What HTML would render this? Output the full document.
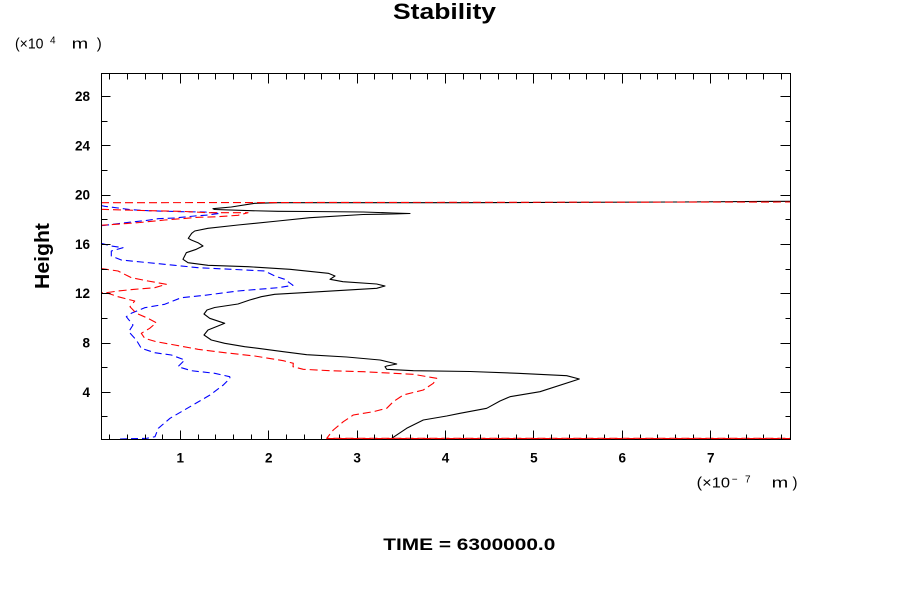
<!DOCTYPE html>
<html><head><meta charset="utf-8"><style>
html,body{margin:0;padding:0;background:#fff;}
svg{display:block;}
text{font-family:"Liberation Sans",Arial,sans-serif;}
</style></head><body>
<svg width="900" height="600" viewBox="0 0 900 600" xmlns="http://www.w3.org/2000/svg">
<rect width="900" height="600" fill="#fff"/>
<!-- title -->
<text x="393" y="19" font-size="22" font-weight="bold" textLength="103" lengthAdjust="spacingAndGlyphs">Stability</text>
<!-- y units -->
<text x="15" y="48.3" font-size="15" textLength="28.5" lengthAdjust="spacingAndGlyphs">(×10</text>
<text x="50" y="43.5" font-size="10">4</text>
<text x="71.7" y="48.3" font-size="15" textLength="16.6" lengthAdjust="spacingAndGlyphs">m</text>
<text x="96.7" y="48.3" font-size="15">)</text>
<!-- x units -->
<text x="696.7" y="487.3" font-size="15" textLength="33.3" lengthAdjust="spacingAndGlyphs">(×10</text>
<text x="731.7" y="482.5" font-size="10">−</text>
<text x="745" y="482.5" font-size="10">7</text>
<text x="771.7" y="487.3" font-size="15" textLength="16.6" lengthAdjust="spacingAndGlyphs">m</text>
<text x="792.5" y="487.3" font-size="15">)</text>
<!-- Height -->
<text transform="translate(49,256) rotate(-90)" text-anchor="middle" font-size="20" font-weight="bold" textLength="66" lengthAdjust="spacingAndGlyphs">Height</text>
<!-- TIME -->
<text x="383.3" y="550" font-size="17" font-weight="bold" textLength="172" lengthAdjust="spacingAndGlyphs">TIME = 6300000.0</text>

<!-- y tick labels -->
<g font-size="13.5" font-weight="bold" text-anchor="end">
<text x="90" y="101">28</text>
<text x="90" y="150.3">24</text>
<text x="90" y="199.6">20</text>
<text x="90" y="248.9">16</text>
<text x="90" y="298.2">12</text>
<text x="90" y="347.5">8</text>
<text x="90" y="396.8">4</text>
</g>
<!-- x tick labels -->
<g font-size="13.5" font-weight="bold" text-anchor="middle">
<text x="180.3" y="462.7">1</text>
<text x="268.7" y="462.7">2</text>
<text x="357.1" y="462.7">3</text>
<text x="445.5" y="462.7">4</text>
<text x="533.9" y="462.7">5</text>
<text x="622.3" y="462.7">6</text>
<text x="710.7" y="462.7">7</text>
</g>

<!-- curves -->
<g fill="none" stroke-width="1.1" stroke-linejoin="round">
<path stroke="#000" d="M790,201.3 L677,202 L463,202.7 L278,202.7 L254.7,203.3 L231.3,207 L213,208.7 L214.7,209.5 L251.3,210.7 L278,211.3 L310,211.5 L363,212 L393,213 L410,213.5 L393,214 L363,214.5 L310,217.7 L278,221 L238,225 L208,228.3 L194.7,231 L191.7,233.3 L188.3,238.3 L191.3,240 L198,242.7 L203,246 L196.3,249.3 L186.3,252.7 L183,259.3 L188,262.7 L208,265.3 L248,266.7 L290,269.3 L328.3,273.3 L335,276 L330,279.3 L343,281.7 L376.7,284 L385,286 L376.7,288.3 L303,292.7 L274.7,294.3 L261.3,296.7 L249.7,300 L238,304 L214.7,307.5 L207,310 L204,314 L209.7,318.3 L224.7,323.3 L218,326 L208,330 L204,335 L211.3,340 L224.7,343.3 L244.7,346.7 L258,348.3 L283.3,351.7 L306.7,354.7 L346.7,357 L380,360 L396.7,364 L386.7,366 L385,366.7 L386.7,369.3 L413.3,370.7 L470,371.5 L518,373.3 L566.7,375.7 L579.3,379 L540,391.7 L510,396.7 L500,401 L486.7,408.3 L460,413.3 L446.7,416 L423.3,420 L406.7,428.3 L391.7,438.3"/>
<path stroke="#0000ff" stroke-dasharray="7 4" d="M101,205.5 L104.7,206.3 L118,208 L131,209.7 L148,210.7 L181.3,211.7 L204.7,212 L220,213.3 L208,215 L194.7,216 L174.7,218 L158,218.7 L144.7,220.7 L131.3,222 L118,223.7 L104.7,225.3 L101,225.7 M101,243.3 L111.3,246 L123,247.7 L111.3,251 L111.3,256 L121.3,260 L141.3,262 L174.7,265.3 L198,267.7 L231.3,269.3 L264.7,271 L274.7,276 L284.7,279.3 L293,285.3 L278,287.7 L238,291 L204.7,295.3 L181.3,297.7 L164.7,304.3 L144.7,307.7 L131.3,313.3 L126.3,316.7 L133,325 L128.7,331.7 L136.3,340 L141.3,348.3 L154.7,352.7 L171.3,355 L184.7,360 L178,366.7 L191.3,370.7 L214.7,373.3 L229.7,376.7 L230,378.3 L223.3,385 L210,395 L190,406.7 L170,418.3 L158.3,428.3 L155,436.7 L146.7,438.3 L120,439"/>
<path stroke="#ff0000" stroke-dasharray="8 4" d="M101,202.7 L500,202.3 L790,202 M101,209.3 L148,210.7 L181.3,211.3 L208,212.7 L248,212.7 L238,215.3 L218,216.7 L198,217.3 L181.3,218.7 L164.7,220 L140,222.5 L120,224 L101,225.3 M101,268.5 L118,271 L131.3,277.7 L148,281 L166.3,284.3 L154.7,287.7 L134.7,289.3 L118,291 L106.3,292.7 L101,292.5 M106.3,292.7 L118,296.7 L134.7,301 L130,306.7 L136.3,313.3 L148,318.3 L156.3,322.7 L149.7,328.3 L141.3,333.3 L144.7,338.3 L156.3,341.7 L174.7,345 L198,349.3 L224.7,352.7 L254.7,356 L283.3,360.7 L293.3,363.3 L293,366.7 L303.3,369.3 L330,370.7 L363.3,371.7 L413.3,374.3 L436.7,378.3 L433.3,383.3 L423.3,390 L403.3,395 L393.3,401.7 L386.7,408.3 L373.3,411.7 L353.3,415 L343.3,421.7 L333.3,430 L326.7,438.3 L790,438.3"/>
</g>

<!-- axes box -->
<rect x="101.5" y="73.5" width="689" height="366" fill="none" stroke="#000" stroke-width="1"/>
<!-- ticks -->
<g stroke="#000" stroke-width="1">
<path d="M180.5,73.5v10 M268.5,73.5v10 M357.5,73.5v10 M445.5,73.5v10 M533.5,73.5v10 M622.5,73.5v10 M710.5,73.5v10"/>
<path d="M109.5,73.5v6 M127.5,73.5v6 M145.5,73.5v6 M162.5,73.5v6 M198.5,73.5v6 M215.5,73.5v6 M233.5,73.5v6 M251.5,73.5v6 M286.5,73.5v6 M304.5,73.5v6 M321.5,73.5v6 M339.5,73.5v6 M374.5,73.5v6 M392.5,73.5v6 M410.5,73.5v6 M427.5,73.5v6 M463.5,73.5v6 M480.5,73.5v6 M498.5,73.5v6 M516.5,73.5v6 M551.5,73.5v6 M569.5,73.5v6 M586.5,73.5v6 M604.5,73.5v6 M640.5,73.5v6 M657.5,73.5v6 M675.5,73.5v6 M693.5,73.5v6 M728.5,73.5v6 M746.5,73.5v6 M763.5,73.5v6 M781.5,73.5v6"/>
<path d="M180.5,439.5v-9 M268.5,439.5v-9 M357.5,439.5v-9 M445.5,439.5v-9 M533.5,439.5v-9 M622.5,439.5v-9 M710.5,439.5v-9"/>
<path d="M109.5,439.5v-5 M127.5,439.5v-5 M145.5,439.5v-5 M162.5,439.5v-5 M198.5,439.5v-5 M215.5,439.5v-5 M233.5,439.5v-5 M251.5,439.5v-5 M286.5,439.5v-5 M304.5,439.5v-5 M321.5,439.5v-5 M339.5,439.5v-5 M374.5,439.5v-5 M392.5,439.5v-5 M410.5,439.5v-5 M427.5,439.5v-5 M463.5,439.5v-5 M480.5,439.5v-5 M498.5,439.5v-5 M516.5,439.5v-5 M551.5,439.5v-5 M569.5,439.5v-5 M586.5,439.5v-5 M604.5,439.5v-5 M640.5,439.5v-5 M657.5,439.5v-5 M675.5,439.5v-5 M693.5,439.5v-5 M728.5,439.5v-5 M746.5,439.5v-5 M763.5,439.5v-5 M781.5,439.5v-5"/>
<path d="M101.5,96.5h9 M101.5,145.5h9 M101.5,195.5h9 M101.5,244.5h9 M101.5,293.5h9 M101.5,343.5h9 M101.5,392.5h9"/>
<path d="M101.5,121.5h6 M101.5,170.5h6 M101.5,219.5h6 M101.5,269.5h6 M101.5,318.5h6 M101.5,367.5h6 M101.5,416.5h6"/>
<path d="M790.5,96.5h-10 M790.5,145.5h-10 M790.5,195.5h-10 M790.5,244.5h-10 M790.5,293.5h-10 M790.5,343.5h-10 M790.5,392.5h-10"/>
<path d="M790.5,121.5h-5 M790.5,170.5h-5 M790.5,219.5h-5 M790.5,269.5h-5 M790.5,318.5h-5 M790.5,367.5h-5 M790.5,416.5h-5"/>
</g>
<path d="M326.7,438.6 L790,438.6" stroke="#ff0000" stroke-width="1.1" stroke-dasharray="8 4" fill="none"/>
</svg>
</body></html>
